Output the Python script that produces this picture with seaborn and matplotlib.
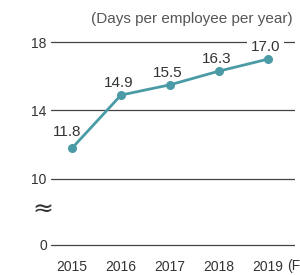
import matplotlib
matplotlib.use("Agg")
import matplotlib.pyplot as plt
import seaborn as sns
import pandas as pd

years = ["2015", "2016", "2017", "2018", "2019"]
days = [11.8, 14.9, 15.5, 16.3, 17.0]
value_labels = ["11.8", "14.9", "15.5", "16.3", "17.0"]
ytick_values = [6.14, 10, 14, 18]
ytick_labels = ["0", "10", "14", "18"]
unit_label = "(Days per employee per year)"
fy_label = "(FY)"

sns.set_theme(style="white")
plt.rcParams['font.family'] = ['Liberation Sans', 'DejaVu Sans']

df = pd.DataFrame({"x": list(range(len(years))), "days": days})

fig = plt.figure(figsize=(3.0, 2.75), dpi=100)
ax = fig.add_axes([0.17, 0.1004, 0.813, 0.7655])

line_color = "#4a9ba6"
grid_color = "#444444"
text_color = "#333333"

for yv in ytick_values:
    ax.axhline(yv, color=grid_color, lw=0.9, zorder=1)

sns.lineplot(data=df, x="x", y="days", ax=ax, color=line_color, lw=2.0,
             marker="o", markersize=6.5, markeredgewidth=0, zorder=5)

for i, (v, lab) in enumerate(zip(days, value_labels)):
    if i == 0:
        ax.text(i - 0.1, v + 0.7, lab, ha="center", va="baseline",
                fontsize=11, color=text_color, zorder=4)
    else:
        ax.text(i - 0.05, v + 0.47, lab, ha="center", va="baseline",
                fontsize=11, color=text_color, zorder=4,
                bbox=dict(facecolor="white", edgecolor="none", pad=2.5))

ax.set_xlim(-0.43, 4.55)
ax.set_ylim(6.0, 18.3)
ax.set_xticks(list(range(len(years))))
ax.set_xticklabels(years)
ax.set_yticks(ytick_values)
ax.set_yticklabels(ytick_labels)
ax.tick_params(axis="both", length=0, labelsize=10, labelcolor=text_color)
ax.tick_params(axis="y", pad=3)
ax.tick_params(axis="x", pad=9)
ax.set_xlabel("")
ax.set_ylabel("")
for s in ax.spines.values():
    s.set_visible(False)

fig.text(0.977, 0.93, unit_label, ha="right", va="center", fontsize=11,
         color="#555555")
fig.text(0.957, 0.033, fy_label, ha="left", va="center", fontsize=10,
         color=text_color)
fig.text(0.142, 0.238, "\u2248", ha="center", va="center", fontsize=18,
         color=text_color, family=['DejaVu Sans'])

fig.savefig("out.png", dpi=100)
